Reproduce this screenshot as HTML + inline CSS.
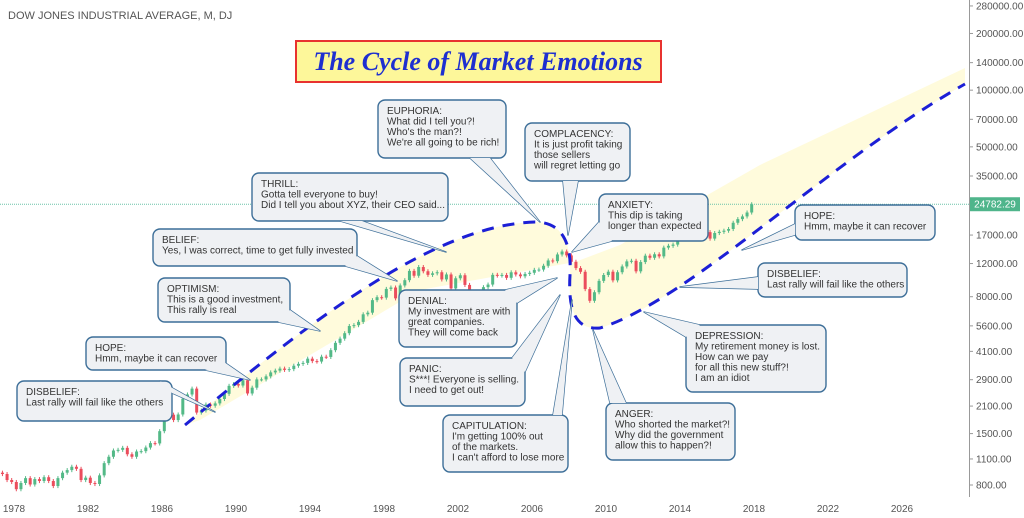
<!DOCTYPE html>
<html><head><meta charset="utf-8"><style>
body{margin:0;background:#fff;}
svg{display:block;font-family:"Liberation Sans",sans-serif;}
</style></head><body>
<svg id="c" width="1024" height="518" viewBox="0 0 1024 518">
<rect x="0" y="0" width="1024" height="518" fill="#fff"/>
<g id="band"></g>
<g id="candles"></g>
<g id="axes"></g>
<g id="curve"></g>
<g id="callouts"></g>
<text x="8" y="19" font-size="11" fill="#555">DOW JONES INDUSTRIAL AVERAGE, M, DJ</text>
<g>
<rect x="296" y="41" width="365" height="41" fill="#fdf79a" stroke="#e8322f" stroke-width="2"/>
<text x="478" y="70" text-anchor="middle" font-family="Liberation Serif,serif" font-style="italic" font-weight="bold" font-size="26" fill="#1e2fd0">The Cycle of Market Emotions</text>
</g>
</svg>
<script>
const startYear = 1977.0;
const closes = [930,915,850,830, 760,820,870,805, 860,840,880,840, 790,870,930,960,
1000,975,850,875, 820,810,900,1045, 1130,1220,1230,1260, 1165,1130,1205,1210,
1265,1335,1330,1545, 1820,1890,1770,1895, 2300,2420,2600,1940, 1990,2140,2110,2170,
2290,2440,2690,2750, 2700,2880,2450,2630, 2910,2910,3020,3170, 3240,3320,3270,3300,
3440,3520,3560,3750, 3640,3620,3840,3830, 4160,4550,4790,5120, 5590,5650,5880,6450,
6580,7670,7950,7910, 8800,8950,7840,9180, 9790,10970,10340,11500, 10920,10450,10650,10790,
9880,10500,8850,10020, 10400,9240,7590,8340, 7990,8990,9280,10450, 10360,10440,10080,10780,
10500,10270,10570,10720, 11110,11150,11680,12460, 12350,13410,13900,13260, 12260,11350,10850,8780,
7610,8450,9710,10430, 10860,9770,10790,11580, 12320,12410,10910,12220, 13210,12880,13440,13100,
14580,14910,15130,16580, 16460,16830,17040,17820, 17780,17620,16280,17430, 17690,17930,18310,19760,
20660,21350,22400,24780];
const yTicks = [280000,200000,140000,100000,70000,50000,35000,17000,12000,8000,5600,4100,2900,2100,1500,1100,800];
const xTicks = [1978,1982,1986,1990,1994,1998,2002,2006,2010,2014,2018,2022,2026];
const lastPrice = 24782.29;

const NS="http://www.w3.org/2000/svg";
function X(yr){return 14+(yr-1978)*18.5;}
function Y(v){return 485-(Math.log10(v)-Math.log10(800))*188.3;}
function mk(tag,attrs,parent){const e=document.createElementNS(NS,tag);for(const k in attrs)e.setAttribute(k,attrs[k]);parent.appendChild(e);return e;}

const band=document.getElementById('band');
const b=mk('path',{d:'M185,425 C300,330 430,225 535,222 C560,222 572,240 570,275 C568,310 575,330 600,328 C690,300 830,160 965,84 L965,68 L760,165 L620,245 L575,262 L420,290 L200,420 Z',fill:'#fffbdc'},band);



const cg=document.getElementById('candles');
for(let i=0;i<closes.length;i++){
  const o=i===0?closes[0]*1.02:closes[i-1], c=closes[i];
  const hi=Math.max(o,c)*1.025, lo=Math.min(o,c)*0.975;
  const x=X(startYear+i*0.25+0.125);
  const col=c>=o?'#53b987':'#eb4d5c';
  const w=mk('line',{x1:x,x2:x,y1:Y(hi),y2:Y(lo),stroke:col,'stroke-width':1},cg);
  
  
  const r=mk('rect',{x:x-1.5,width:3,y:Y(Math.max(o,c)),height:Math.max(1,Y(Math.min(o,c))-Y(Math.max(o,c))),fill:col},cg);
  
  
}

const ax=document.getElementById('axes');
const pl=mk('line',{x1:0,x2:969,y1:Y(lastPrice),y2:Y(lastPrice),stroke:'#6cc3a8','stroke-width':1,'stroke-dasharray':'1,1'},ax);


const al=mk('line',{x1:969.5,x2:969.5,y1:0,y2:497,stroke:'#999','stroke-width':1},ax);


yTicks.forEach(v=>{
  const y=Y(v);
  const t=mk('line',{x1:969,x2:973,y1:y,y2:y,stroke:'#999'},ax);
  
  
  const tx=mk('text',{x:976,y:y+3.5,'font-size':10,fill:'#555'},ax);
  tx.textContent=v.toFixed(2);
  
  
});
const py=Y(lastPrice);
const pr=mk('rect',{x:970,y:py-7,width:50,height:14,fill:'#4fb58b'},ax);


const pt=mk('text',{x:995,y:py+3.5,'font-size':10,fill:'#fff','text-anchor':'middle'},ax);
pt.textContent=lastPrice.toFixed(2);


xTicks.forEach(yr=>{
  const tx=mk('text',{x:X(yr),y:512,'font-size':10,fill:'#555','text-anchor':'middle'},ax);
  tx.textContent=yr;
  
  
});

const cv=document.getElementById('curve');
const cp=mk('path',{d:'M185,425 C300,330 430,225 535,222 C560,222 572,240 570,275 C568,310 575,330 600,328 C690,300 830,160 965,84',fill:'none',stroke:'#1c1fd6','stroke-width':3,'stroke-dasharray':'12,9'},cv);



const callouts=[
 {n:'disbelief-left',b:[17,381,155,40],p:[160,381,172,393],t:[215,412],l:['DISBELIEF:','Last rally will fail like the others']},
 {n:'hope-left',b:[86,337,140,33],p:[205,370,224,362],t:[250,380],l:['HOPE:','Hmm, maybe it can recover']},
 {n:'optimism',b:[158,278,132,44],p:[278,322,290,310],t:[320,331],l:['OPTIMISM:','This is a good investment,','This rally is real']},
 {n:'belief',b:[153,229,204,37],p:[345,266,357,256],t:[397,281],l:['BELIEF:','Yes, I was correct, time to get fully invested']},
 {n:'thrill',b:[252,173,196,48],p:[340,221,362,221],t:[446,252],l:['THRILL:','Gotta tell everyone to buy!','Did I tell you about XYZ, their CEO said...']},
 {n:'euphoria',b:[378,100,128,58],p:[470,158,490,158],t:[540,222],l:['EUPHORIA:','What did I tell you?!',"Who's the man?!","We're all going to be rich!"]},
 {n:'complacency',b:[525,123,105,58],p:[563,181,578,181],t:[568,235],l:['COMPLACENCY:','It is just profit taking','those sellers','will regret letting go']},
 {n:'anxiety',b:[599,194,109,47],p:[599,222,612,241],t:[572,252],l:['ANXIETY:','This dip is taking','longer than expected']},
 {n:'denial',b:[399,290,118,57],p:[505,290,517,303],t:[557,278],l:['DENIAL:','My investment are with','great companies.','They will come back']},
 {n:'panic',b:[400,358,125,48],p:[512,358,525,372],t:[560,295],l:['PANIC:','S***! Everyone is selling.','I need to get out!']},
 {n:'capitulation',b:[443,415,125,57],p:[553,415,562,415],t:[572,300],l:['CAPITULATION:',"I'm getting 100% out",'of the markets.',"I can't afford to lose more"]},
 {n:'anger',b:[606,403,129,57],p:[610,403,626,403],t:[593,330],l:['ANGER:','Who shorted the market?!','Why did the government','allow this to happen?!']},
 {n:'depression',b:[686,325,140,67],p:[686,337,700,325],t:[644,312],l:['DEPRESSION:','My retirement money is lost.','How can we pay','for all this new stuff?!','I am an idiot']},
 {n:'disbelief-right',b:[758,263,149,34],p:[758,277,758,289],t:[680,287],l:['DISBELIEF:','Last rally will fail like the others']},
 {n:'hope-right',b:[795,205,140,35],p:[795,224,795,235],t:[742,250],l:['HOPE:','Hmm, maybe it can recover']}
];
const cl=document.getElementById('callouts');
callouts.forEach(c=>{
  const g=mk('g',{},cl);
  
  
  const tri=`${c.p[0]},${c.p[1]} ${c.t[0]},${c.t[1]} ${c.p[2]},${c.p[3]}`;
  mk('polygon',{points:tri,fill:'#eff1f4',stroke:'#3c6e98','stroke-width':1.4,'stroke-linejoin':'round'},g);
  mk('rect',{x:c.b[0],y:c.b[1],width:c.b[2],height:c.b[3],rx:7,fill:'#eff1f4',stroke:'#3c6e98','stroke-width':1.4},g);
  mk('polygon',{points:tri,fill:'#eff1f4'},g);
  c.l.forEach((s,i)=>{
    const t=mk('text',{x:c.b[0]+9,y:c.b[1]+14+i*10.5,'font-size':10,fill:'#333'},g);
    t.textContent=s;
    
    
  });
});
</script>
</body></html>
